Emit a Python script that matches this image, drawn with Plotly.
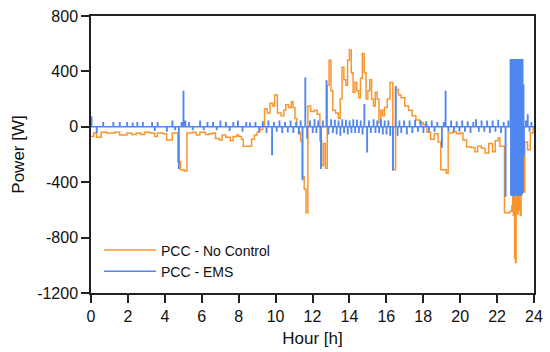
import plotly.graph_objects as go

# ---- data (hours, W) ----
nc_hours = [0.00, 0.15, 0.30, 0.55, 0.85, 1.30, 1.55, 1.95, 2.20, 2.45, 2.70, 2.90, 3.20, 3.45, 3.60, 3.90,
            4.10, 4.40, 4.70, 4.85, 5.05, 5.20, 5.50, 5.70, 5.90, 6.20, 6.40, 6.60, 6.75, 6.95, 7.10, 7.30,
            7.55, 7.70, 7.90, 8.00, 8.15, 8.25, 8.55, 8.70, 8.85, 9.00, 9.15, 9.30, 9.40, 9.55, 9.70, 9.85,
            9.95, 10.10, 10.30, 10.45, 10.55, 10.70, 10.85, 10.95, 11.05, 11.15, 11.25, 11.35, 11.45, 11.55,
            11.65, 11.75, 11.90, 12.10, 12.25, 12.40, 12.50, 12.60, 12.70, 12.80, 12.90, 13.00, 13.10, 13.25,
            13.40, 13.50, 13.60, 13.70, 13.80, 13.90, 14.00, 14.10, 14.20, 14.30, 14.40, 14.50, 14.60, 14.70,
            14.80, 14.90, 15.00, 15.10, 15.20, 15.30, 15.40, 15.50, 15.60, 15.70, 15.80, 15.90, 16.05, 16.20,
            16.35, 16.50, 16.65, 16.80, 17.00, 17.20, 17.40, 17.60, 17.80, 18.00, 18.20, 18.40, 18.60, 18.80,
            18.95, 19.25, 19.35, 19.60, 19.80, 20.00, 20.15, 20.35, 20.60, 20.80, 20.95, 21.15, 21.35, 21.55,
            21.75, 21.90, 22.05, 22.15, 22.40, 22.70, 22.80, 22.85, 22.88, 22.92, 22.95, 22.97, 23.00, 23.03,
            23.06, 23.10, 23.14, 23.18, 23.22, 23.26, 23.30, 23.35, 23.45, 23.50, 23.65, 23.80, 23.95, 24.00]
nc_power = [-70, -45, -75, -40, -45, -40, -60, -45, -55, -45, -55, -40, -45, -70, -45, -50,
            -95, -45, -250, -310, -320, -45, -40, -60, -40, -55, -50, -45, -85, -95, -60, -75,
            -100, -70, -60, -70, -90, -140, -140, -90, -60, -40, -20, 10, 130, 100, 170, 150,
            230, 100, 80, 120, 160, 140, 180, 140, 60, 0, -40, -100, -360, -450,
            -620, 150, 110, 120, 90, -100, -280, -120, -300, 300, 480, 260, 120, 100,
            60, 200, 430, 340, 300, 480, 555, 390, 250, 320, 260, 210, 350, 530,
            390, 200, 260, 340, 200, 150, 250, 200, 30, 120, 80, 140, 200, 320,
            -310, 270, 230, 210, 150, 120, 80, 50, 30, 15, -40, -90, -50, -110,
            -310, -335, -45, -35, -50, -45, -95, -145, -150, -180, -140, -155, -190, -120,
            -180, -100, -80, -140, -620, -610, -570, -500, -640, -490, -950, -520, -980, -600,
            -500, -630, -480, -600, -500, -640, -490, -470, -470, -110, -165, -45, -10, -10]

ems_spike_hours = [0.02, 0.30, 0.65, 1.20, 1.55, 1.95, 2.25, 2.50, 2.80, 3.30, 3.45, 3.60, 4.10, 4.40, 4.55,
                   4.75, 4.90, 5.00, 5.10, 5.30, 5.50, 5.90, 6.10, 6.30, 6.60, 6.80, 7.00, 7.30, 7.50, 7.70,
                   7.95, 8.20, 8.40, 8.60, 8.90, 9.10, 9.30, 9.50, 9.60, 9.80, 9.90, 10.05, 10.20, 10.35,
                   10.50, 10.65, 10.80, 10.95, 11.10, 11.25, 11.35, 11.45, 11.60, 11.70, 11.85, 12.00,
                   12.10, 12.20, 12.30, 12.45, 12.55, 12.75, 12.85, 13.00, 13.10, 13.20, 13.30, 13.40,
                   13.50, 13.60, 13.70, 13.80, 13.90, 14.00, 14.10, 14.20, 14.30, 14.40, 14.50, 14.60,
                   14.70, 14.80, 14.95, 15.05, 15.15, 15.30, 15.40, 15.50, 15.60, 15.70, 15.80, 15.90,
                   16.00, 16.10, 16.20, 16.35, 16.50, 16.60, 16.70, 16.80, 16.95, 17.10, 17.25, 17.40,
                   17.55, 17.70, 17.85, 18.00, 18.15, 18.30, 18.45, 18.60, 18.75, 19.00, 19.10, 19.20,
                   19.35, 19.50, 19.65, 19.80, 19.95, 20.10, 20.25, 20.40, 20.55, 20.70, 20.85, 21.00,
                   21.15, 21.30, 21.45, 21.60, 21.75, 21.90, 22.05, 22.20, 22.35, 22.45, 22.60,
                   22.720, 22.745, 22.770, 22.795, 22.820, 22.845, 22.870, 22.895, 22.920, 22.945,
                   22.970, 22.995, 23.020, 23.045, 23.070, 23.095, 23.120, 23.145, 23.170, 23.195,
                   23.220, 23.245, 23.270, 23.295, 23.320, 23.345, 23.370, 23.395, 23.420, 23.445,
                   23.55, 23.65, 23.75, 23.85]
ems_spike_power = [70, -40, 30, 30, 30, 30, 25, 30, 30, 30, -25, 30, -30, 40, -20,
                   -300, 30, 255, 40, 30, -20, 40, -20, 30, 30, -20, 40, 30, -25, 30,
                   40, -30, 30, 25, 30, -30, 35, -40, 40, -200, 30, -30, 40, -40,
                   30, -35, 40, -40, 30, -50, 40, -380, 350, -80, 40, -40,
                   50, -40, 40, -300, 40, 330, -50, 50, -40, 45, -50, 40,
                   -60, 50, -40, 45, -50, 40, -40, 50, -40, 45, -40, 40,
                   -50, 160, -180, 40, -40, 50, -40, 40, -40, 50, -50, 40,
                   -50, 40, -60, -310, 290, -60, 40, -40, 40, -50, 40, -40,
                   45, -30, 40, -40, 35, -30, 40, -30, 30, -145, 30, 255,
                   -30, 40, -30, 35, -30, 40, -30, 35, -40, 30, 50, -30,
                   40, -30, 40, -40, 40, -30, 45, -40, 30, -500, 40,
                   485, -490, 480, -495, 485, -490, 485, -480, 480, -500,
                   485, -490, 485, -485, 480, -495, 485, -490, 485, -490,
                   480, -300, 485, -490, 480, -480, 485, -470, 300, -200,
                   40, 85, -30, 30]

x_tick_vals = [0, 2, 4, 6, 8, 10, 12, 14, 16, 18, 20, 22, 24]
y_tick_vals = [-1200, -800, -400, 0, 400, 800]
y_tick_text = ["-1200", "-800", "-400", "0", "400", "800"]

ORANGE = "#F7962F"
BLUE = "#4F86F0"

# EMS trace as step pulses returning to zero
spike_width = 0.02
ems_t, ems_p = [0.0], [0.0]
for t, v in zip(ems_spike_hours, ems_spike_power):
    ems_t += [t, t + spike_width]
    ems_p += [v, 0]
ems_t.append(24.0)
ems_p.append(0)

fig = go.Figure()
fig.add_trace(go.Scatter(x=nc_hours, y=nc_power, mode="lines", name="PCC - No Control",
                         legendgroup="a",
                         line=dict(color=ORANGE, width=1.5, shape="hv")))
fig.add_trace(go.Scatter(x=ems_t, y=ems_p, mode="lines", name="PCC - EMS",
                         legendgroup="b",
                         line=dict(color=BLUE, width=1.5, shape="hv")))

axis_common = dict(showgrid=False, zeroline=False, showline=True, linecolor="#222222",
                   linewidth=1.5, mirror=True, ticks="outside", ticklen=8, tickwidth=1.5,
                   tickcolor="#222222", tickfont=dict(size=16, color="#111111"),
                   ticklabeloverflow="allow")
fig.update_xaxes(range=[0, 24], tickvals=x_tick_vals,
                 title=dict(text="Hour [h]", font=dict(size=17, color="#111111"), standoff=8),
                 **axis_common)
fig.update_yaxes(range=[-1200, 800], tickvals=y_tick_vals, ticktext=y_tick_text,
                 title=dict(text="Power [W]", font=dict(size=17, color="#111111"), standoff=8),
                 **axis_common)

fig.update_layout(
    width=550, height=352,
    margin=dict(l=91, r=16, t=16, b=59, autoexpand=False),
    paper_bgcolor="white", plot_bgcolor="white",
    font=dict(family="Liberation Sans, Arial, sans-serif", color="#111111"),
    showlegend=True,
    legend=dict(x=0.018, y=0.02, xanchor="left", yanchor="bottom",
                traceorder="grouped", tracegroupgap=0, itemwidth=52,
                bgcolor="rgba(0,0,0,0)", font=dict(size=14)),
)

fig.write_html("out.html", config={"displayModeBar": False},
               post_script="document.body.style.margin='0';")
